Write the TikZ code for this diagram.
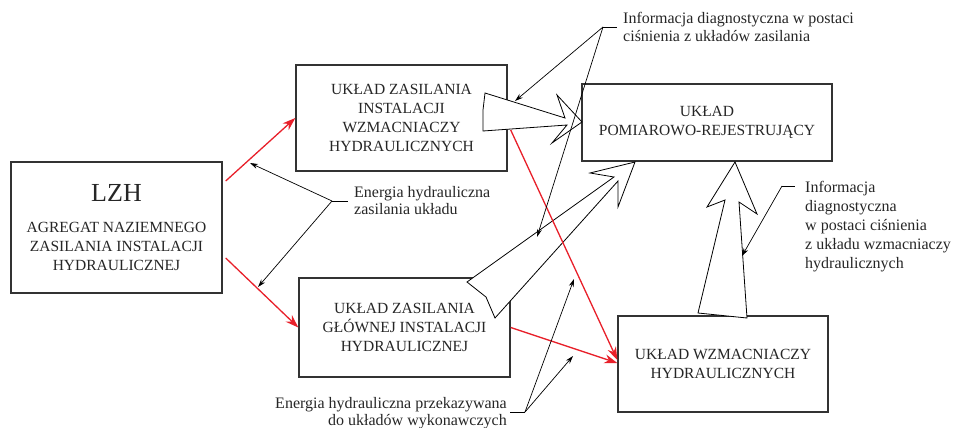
\documentclass[tikz,border=0pt]{standalone}
\usepackage{fontspec}
\setmainfont{Liberation Serif}
\usetikzlibrary{arrows.meta,calc}
\definecolor{ramka}{HTML}{333333}
\definecolor{czerwony}{HTML}{E8202A}
\tikzstyle{block} = [rectangle, draw=ramka, line width=1.4pt, fill=white, text=black!85, align=center, inner sep=0pt, font=\fontsize{15.5}{18.8}\selectfont]
\tikzstyle{opis} = [anchor=base west, align=left, inner sep=0pt, text=black!85, font=\fontsize{16}{18.8}\selectfont]
\tikzstyle{zasilanie} = [draw=czerwony, line width=1.3pt, -{Stealth[length=13pt,width=9pt]}]
\tikzstyle{wskaz} = [draw=black, line width=0.7pt, ->]
\tikzstyle{pusta} = [draw=black, line width=0.8pt, fill=white, line join=miter]

\begin{document}
\begin{tikzpicture}[x=1pt, y=-1pt, >={Stealth[length=8pt,width=5pt]}]
    \useasboundingbox (0,0) rectangle (953,428);

    % bloki
    \node[block, minimum width=211pt, minimum height=131pt] (lzh) at (116.5,227.5)
        {{\fontsize{26}{30}\selectfont LZH}\\[12pt]AGREGAT NAZIEMNEGO\\ZASILANIA INSTALACJI\\HYDRAULICZNEJ};
    \node[block, minimum width=211pt, minimum height=106pt] (zasilwzm) at (401.5,118)
        {UKŁAD ZASILANIA\\INSTALACJI\\WZMACNIACZY\\HYDRAULICZNYCH};
    \node[block, minimum width=250pt, minimum height=77pt] (pomiar) at (707,122.5)
        {UKŁAD\\POMIAROWO-REJESTRUJĄCY};
    \node[block, minimum width=211pt, minimum height=99pt] (zasilglow) at (404.5,327.5)
        {UKŁAD ZASILANIA\\GŁÓWNEJ INSTALACJI\\HYDRAULICZNEJ};
    \node[block, minimum width=210pt, minimum height=96pt] (wzmacn) at (723,364)
        {UKŁAD WZMACNIACZY\\HYDRAULICZNYCH};

    % opisy (punkt = linia bazowa ostatniego wiersza)
    \node[opis] (infozas) at (623,42) {Informacja diagnostyczna w postaci\\ciśnienia z układów zasilania};
    \node[opis, font=\fontsize{16}{16.7}\selectfont] (energzas) at (354,214.5) {Energia hydrauliczna\\zasilania układu};
    \node[opis, anchor=base east, align=right, font=\fontsize{16}{16.9}\selectfont] (energwyk) at (507,425)
        {Energia hydrauliczna przekazywana\\do układów wykonawczych};
    \node[opis] (infowzm) at (805,268) {Informacja\\diagnostyczna\\w postaci ciśnienia\\z układu wzmacniaczy\\hydraulicznych};

    % puste strzalki (przeplyw informacji)
    \draw[pusta] (485,93) -- (565,118) -- (557,95) -- (582,122) -- (552,143) -- (567,125) -- (483,131) -- (483,110) -- cycle;
    \draw[pusta] (467,282) -- (614,177) -- (590,173) -- (635,162) -- (618,207) -- (618,181) -- (495,318) -- (486,297) -- cycle;
    \draw[pusta] (698,313) -- (725,200) -- (707,207) -- (735,162) -- (757,214) -- (739,202) -- (747,318) -- cycle;

    % zasilanie hydrauliczne
    \draw[zasilanie] ([xshift=3pt,yshift=46.5pt]lzh.east) -- (zasilwzm.west);
    \draw[zasilanie] ([xshift=3pt,yshift=-30.5pt]lzh.east) -- (zasilglow.west);
    \draw[zasilanie] ([xshift=3pt,yshift=-12pt]zasilwzm.east) -- ([yshift=4pt]wzmacn.west);
    \draw[zasilanie] (zasilglow.east) -- ([yshift=1pt]wzmacn.west);

    % odnosniki
    \coordinate (wezel1) at (603,27);
    \coordinate (wezel2) at (332,201);
    \coordinate (wezel3) at (525,412);
    \coordinate (wezel4) at (782,186);
    \coordinate (cel1a) at (515,101);
    \coordinate (cel1b) at (537,237);
    \coordinate (cel2a) at (250,163);
    \coordinate (cel2b) at (258,287);
    \coordinate (cel3a) at (574,279);
    \coordinate (cel3b) at (573,356);
    \coordinate (cel4) at (742,256);

    \draw[wskaz, -] (wezel1) -- ++(14,0);
    \draw[wskaz] (wezel1) -- (cel1a);
    \draw[wskaz] (wezel1) -- (cel1b);
    \draw[wskaz, -] (wezel2) -- ++(16,0);
    \draw[wskaz] (wezel2) -- (cel2a);
    \draw[wskaz] (wezel2) -- (cel2b);
    \draw[wskaz, -] (wezel3) -- ++(-15,0);
    \draw[wskaz] (wezel3) -- (cel3a);
    \draw[wskaz] (wezel3) -- (cel3b);
    \draw[wskaz, -] (wezel4) -- ++(13,0);
    \draw[wskaz] (wezel4) -- (cel4);
\end{tikzpicture}
\end{document}
